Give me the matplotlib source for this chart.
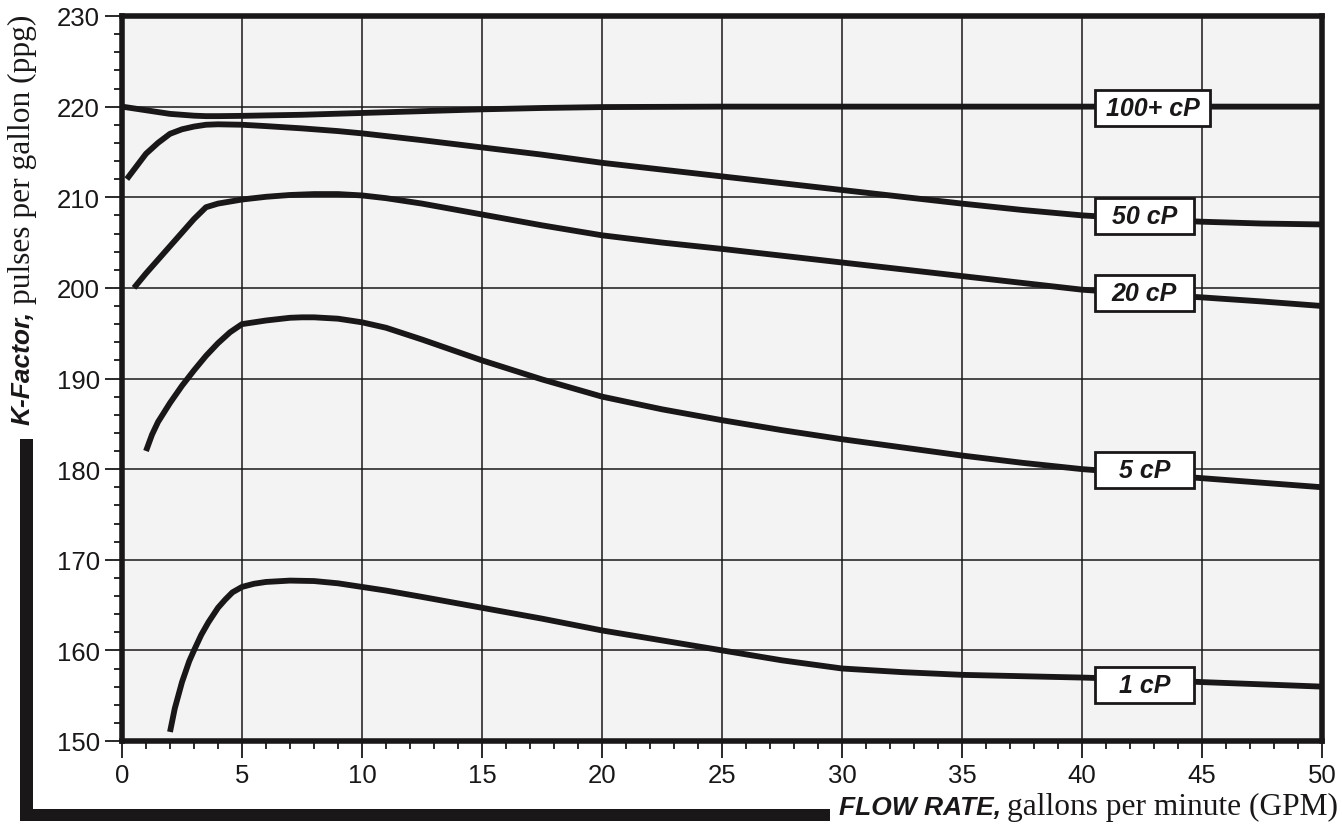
import matplotlib
matplotlib.use("Agg")
import matplotlib.pyplot as plt
from matplotlib.patches import Rectangle
from matplotlib.ticker import MultipleLocator

# K-Factor curves (GPM, ppg)
x_100 = [0, 0.5, 1, 1.5, 2, 2.5, 3, 3.5, 4, 5, 6, 7.5, 10, 12.5, 15, 17.5, 20, 25, 30, 35, 40, 45, 50]
k_100 = [220, 219.8, 219.6, 219.4, 219.2, 219.1, 219.0, 218.95, 218.95, 218.98, 219.03, 219.1,
         219.3, 219.5, 219.7, 219.85, 219.95, 220, 220, 220, 220, 220, 220]

x_50 = [0.2, 0.6, 1, 1.5, 2, 2.5, 3, 3.5, 4, 5, 6, 7.5, 9, 10, 12.5, 15, 17.5, 20, 22.5, 25,
        27.5, 30, 32.5, 35, 37.5, 40, 42.5, 45, 47.5, 50]
k_50 = [212, 213.4, 214.8, 216.0, 217, 217.5, 217.8, 218, 218.05, 218, 217.85, 217.6, 217.3,
        217.05, 216.3, 215.5, 214.7, 213.8, 213.05, 212.3, 211.55, 210.8, 210.05, 209.3, 208.6,
        208, 207.6, 207.3, 207.1, 207]

x_20 = [0.5, 1, 1.5, 2, 2.5, 3, 3.5, 4, 5, 6, 7, 8, 9, 10, 11, 12.5, 15, 17.5, 20, 22.5, 25,
        27.5, 30, 32.5, 35, 37.5, 40, 42.5, 45, 47.5, 50]
k_20 = [200, 201.6, 203.1, 204.6, 206.1, 207.6, 208.9, 209.3, 209.75, 210.05, 210.25, 210.35,
        210.35, 210.2, 209.9, 209.3, 208.1, 206.9, 205.8, 205.0, 204.3, 203.55, 202.8, 202.05,
        201.3, 200.55, 199.8, 199.35, 198.95, 198.5, 198]

x_5 = [1, 1.25, 1.5, 2, 2.5, 3, 3.5, 4, 4.5, 5, 6, 7, 7.5, 8, 9, 10, 11, 12.5, 15, 17.5, 20,
       22.5, 25, 27.5, 30, 32.5, 35, 37.5, 40, 42.5, 45, 47.5, 50]
k_5 = [182, 183.8, 185.2, 187.3, 189.2, 190.9, 192.5, 193.9, 195.1, 196, 196.4, 196.7, 196.75,
       196.75, 196.6, 196.2, 195.6, 194.3, 192, 189.9, 188, 186.6, 185.4, 184.3, 183.3, 182.4,
       181.5, 180.7, 180, 179.5, 179, 178.5, 178]

x_1 = [2, 2.2, 2.5, 2.8, 3, 3.3, 3.6, 4, 4.3, 4.6, 5, 5.5, 6, 7, 8, 9, 10, 11, 12.5, 15, 17.5,
       20, 22.5, 25, 27.5, 30, 32.5, 35, 37.5, 40, 42.5, 45, 47.5, 50]
k_1 = [151, 153.6, 156.5, 158.8, 160, 161.7, 163.1, 164.7, 165.6, 166.4, 167, 167.35, 167.55,
       167.7, 167.65, 167.4, 167, 166.6, 165.9, 164.7, 163.5, 162.2, 161.1, 160, 158.9, 158,
       157.6, 157.3, 157.15, 157, 156.8, 156.5, 156.25, 156]

curves = [(x_100, k_100), (x_50, k_50), (x_20, k_20), (x_5, k_5), (x_1, k_1)]

labels = ["100+ cP", "50 cP", "20 cP", "5 cP", "1 cP"]
label_y = [219.85, 207.9, 199.4, 179.9, 156.2]
label_x = 42.6

sans = "Liberation Sans"
serif = "Liberation Serif"
ink = "#1a1718"

fig = plt.figure(figsize=(13.42, 8.37), dpi=100)
ax = fig.add_axes([122 / 1342, 1 - 742 / 837, 1200 / 1342, 725 / 837])
ax.set_facecolor("#f3f3f3")

for xs, ys in curves:
    ax.plot(xs, ys, color=ink, lw=4.2, solid_capstyle="butt", solid_joinstyle="round", zorder=3)

for lab, ly in zip(labels, label_y):
    w = 4.8 if lab.startswith("100") else 4.1
    ax.add_patch(Rectangle((label_x - 2.05, ly - 2.0), w, 4.0, facecolor="white",
                           edgecolor=ink, lw=2, zorder=4))
    ax.text(label_x - 2.05 + w / 2, ly, lab, ha="center", va="center", fontsize=18,
            fontweight="bold", fontstyle="italic", family=sans, color=ink, zorder=5)

ax.set_xlim(0, 50)
ax.set_ylim(150, 230)
ax.xaxis.set_major_locator(MultipleLocator(5))
ax.xaxis.set_minor_locator(MultipleLocator(1))
ax.yaxis.set_major_locator(MultipleLocator(10))
ax.yaxis.set_minor_locator(MultipleLocator(2))
ax.grid(True, which="major", color=ink, lw=1.1)
ax.set_axisbelow(True)
ax.tick_params(which="major", direction="out", length=12, width=1.3, color=ink,
               labelsize=18.5, pad=4)
ax.tick_params(which="minor", direction="out", length=6, width=1.3, color=ink)
for t in ax.get_xticklabels() + ax.get_yticklabels():
    t.set_family(sans)
    t.set_color(ink)
for s in ax.spines.values():
    s.set_linewidth(4)
    s.set_color(ink)

# L-shaped bracket
fig.patches.append(Rectangle((20 / 1342, 1 - 822 / 837), 13 / 1342, 382 / 837,
                             transform=fig.transFigure, facecolor=ink, edgecolor="none"))
fig.patches.append(Rectangle((20 / 1342, 1 - 822 / 837), 810 / 1342, 12 / 837,
                             transform=fig.transFigure, facecolor=ink, edgecolor="none"))

# axis labels with mixed fonts
t1 = fig.text(30 / 1342, 1 - 425 / 837, "K-Factor,", rotation=90, rotation_mode="anchor",
              ha="left", va="baseline", fontsize=19, fontweight="bold", fontstyle="italic",
              family=sans, color=ink)
t3 = fig.text(1338 / 1342, 1 - 815 / 837, "gallons per minute (GPM)", ha="right", va="baseline",
              fontsize=22.6, family=serif, color=ink)
fig.canvas.draw()
r = fig.canvas.get_renderer()
bb1 = t1.get_window_extent(r)
fig.text(30 / 1342, (bb1.y1 + 7) / fig.bbox.height, "pulses per gallon (ppg)", rotation=90,
         rotation_mode="anchor", ha="left", va="baseline", fontsize=22.6, family=serif,
         color=ink)
bb3 = t3.get_window_extent(r)
fig.text((bb3.x0 - 6) / fig.bbox.width, 1 - 815 / 837, "FLOW RATE,", ha="right", va="baseline",
         fontsize=19, fontweight="bold", fontstyle="italic", family=sans, color=ink)

fig.savefig("out.png", dpi=100, facecolor="white")
